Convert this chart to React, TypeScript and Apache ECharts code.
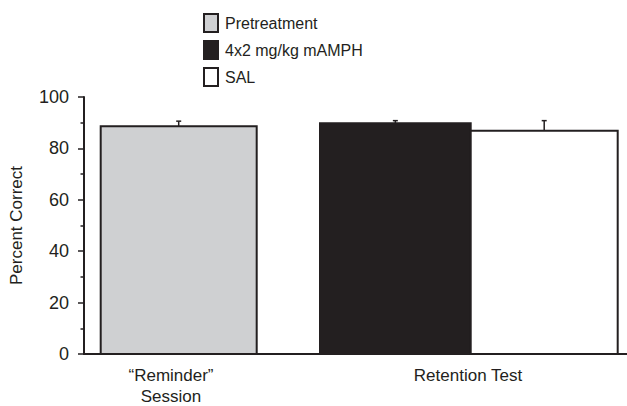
import React, { useEffect, useRef } from "react";
import * as echarts from "echarts";

// ---- data ----
const seriesNames = ["Pretreatment", "4x2 mg/kg mAMPH", "SAL"];
const categories = ["\u201cReminder\u201d\nSession", "Retention Test"];
const means = [88.6, 89.8, 86.9];
const sems = [2.0, 1.0, 3.9];
const yTicks = [0, 20, 40, 60, 80, 100];

// ---- layout / style (not data) ----
const INK = "#231f20";
const FONT = "'Liberation Sans', Arial, Helvetica, sans-serif";
const fills = ["#cfd0d2", "#231f20", "#ffffff"];
const barSpans = [
  [16.7, 172.7],
  [236, 386.7],
  [386.7, 533.7],
];
const labelPositions = [87, 384];
const X_MAX = 543;

export default function App() {
  const ref = useRef<HTMLDivElement>(null);

  useEffect(() => {
    document.body.style.margin = "0";
    if (!ref.current) return;
    const chart = echarts.init(ref.current, undefined, { renderer: "svg" });

    const renderItem = (fill: string) => (params: any, api: any) => {
      const x0 = api.value(0);
      const x1 = api.value(1);
      const v = api.value(2);
      const e = api.value(3);
      const pTop = api.coord([x0, v]);
      const pBot = api.coord([x1, 0]);
      const pErr = api.coord([(x0 + x1) / 2, v + e]);
      const ls = { stroke: INK, lineWidth: 1.5, fill: null };
      return {
        type: "group",
        children: [
          {
            type: "line",
            shape: { x1: pErr[0], y1: pTop[1], x2: pErr[0], y2: pErr[1] },
            style: ls,
          },
          {
            type: "line",
            shape: { x1: pErr[0] - 2.5, y1: pErr[1], x2: pErr[0] + 2.5, y2: pErr[1] },
            style: ls,
          },
          {
            type: "rect",
            shape: {
              x: pTop[0],
              y: pTop[1],
              width: pBot[0] - pTop[0],
              height: pBot[1] - pTop[1],
            },
            style: { fill, stroke: INK, lineWidth: 2 },
          },
        ],
      };
    };

    const series = seriesNames.map((name, i) => ({
      type: "custom",
      name,
      renderItem: renderItem(fills[i]),
      itemStyle: { color: fills[i], borderColor: INK, borderWidth: 2 },
      encode: { x: [0, 1], y: 2 },
      clip: false,
      data: [[barSpans[i][0], barSpans[i][1], means[i], sems[i]]],
    }));

    chart.setOption({
      animation: false,
      backgroundColor: "#ffffff",
      textStyle: { fontFamily: FONT, color: INK },
      legend: {
        orient: "vertical",
        left: 203,
        top: 13,
        padding: 0,
        icon: "rect",
        itemWidth: 14,
        itemHeight: 18,
        itemGap: 7,
        selectedMode: false,
        textStyle: { fontFamily: FONT, fontSize: 16, color: INK, padding: [0, 0, 0, 2] },
        data: seriesNames.map((n, i) => ({
          name: n,
          itemStyle: { color: fills[i], borderColor: INK, borderWidth: 2 },
        })),
      },
      grid: { left: 84, right: 0, top: 97, bottom: 52, outerBoundsMode: "none", containLabel: false },
      xAxis: {
        type: "value",
        min: 0,
        max: X_MAX,
        splitLine: { show: false },
        axisLine: { show: true, lineStyle: { color: INK, width: 2 } },
        axisTick: { show: false },
        axisLabel: {
          show: true,
          customValues: labelPositions,
          formatter: (val: number) => {
            const idx = labelPositions.findIndex((p) => Math.abs(p - val) < 0.5);
            return idx >= 0 ? categories[idx] : "";
          },
          fontFamily: FONT,
          fontSize: 17,
          lineHeight: 21,
          color: INK,
          margin: 11,
          align: "center",
        },
      },
      yAxis: {
        type: "value",
        min: yTicks[0],
        max: yTicks[yTicks.length - 1],
        interval: 20,
        name: "Percent Correct",
        nameLocation: "middle",
        nameGap: 59,
        nameTextStyle: { fontFamily: FONT, fontSize: 17, color: INK },
        splitLine: { show: false },
        axisLine: { show: true, lineStyle: { color: INK, width: 2 } },
        axisTick: { show: true, inside: false, length: 6, lineStyle: { color: INK, width: 1.5 } },
        minorTick: { show: true, splitNumber: 2, length: 3.5, lineStyle: { color: INK, width: 1.5 } },
        minorSplitLine: { show: false },
        axisLabel: { fontFamily: FONT, fontSize: 18, color: INK, margin: 15 },
      },
      series,
    });

    return () => chart.dispose();
  }, []);

  return <div ref={ref} style={{ width: 627, height: 406 }} />;
}
